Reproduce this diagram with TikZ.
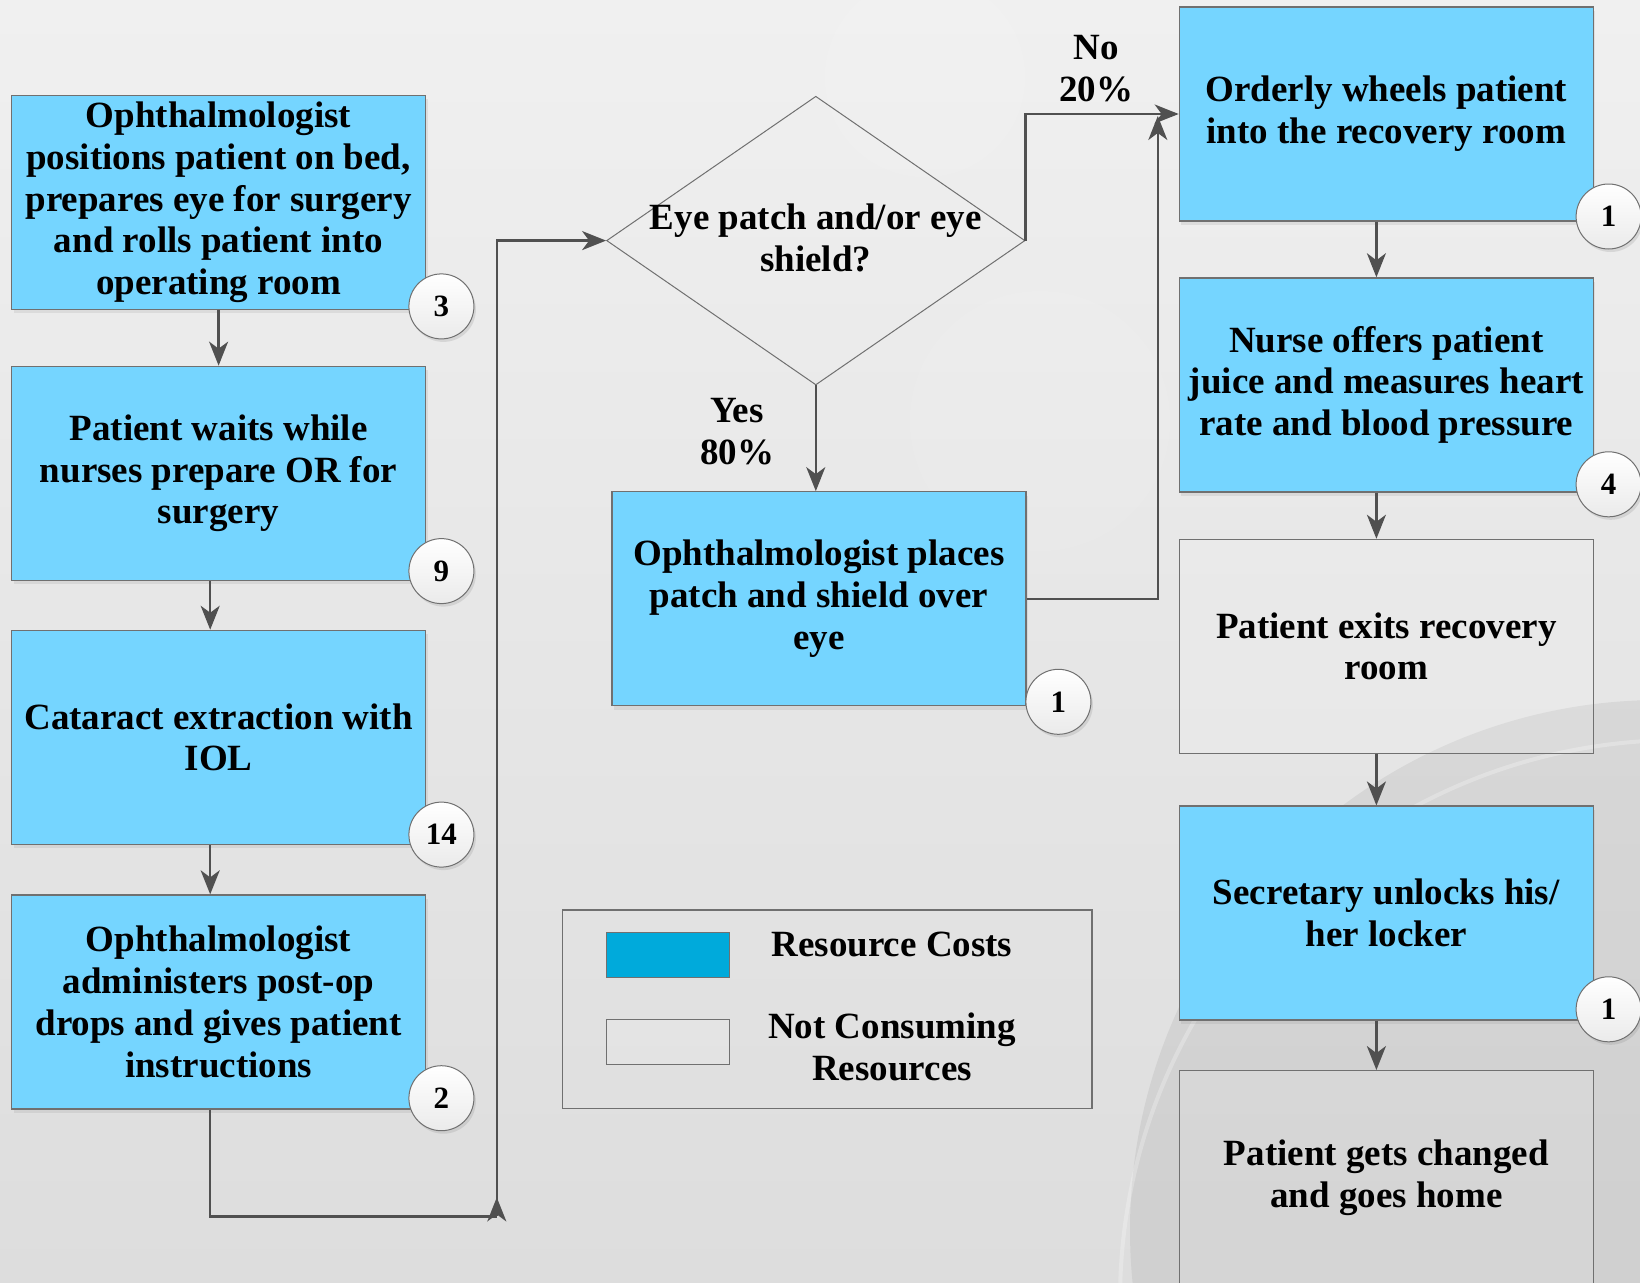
\documentclass[tikz,border=0pt]{standalone}
\usepackage{fontspec}
\setmainfont{Liberation Serif}
\usetikzlibrary{arrows.meta,shapes.geometric,shadows,calc}
\definecolor{boxblue}{RGB}{117,213,255}
\definecolor{swblue}{RGB}{0,170,219}
\definecolor{edgegray}{RGB}{112,112,112}
\definecolor{conngray}{RGB}{80,80,80}
\definecolor{bgtop}{RGB}{240,240,240}
\definecolor{bgbot}{RGB}{221,221,221}
\begin{document}
\begin{tikzpicture}[x=1pt,y=-1pt,
  txt/.style={font=\bfseries\fontsize{37}{41.8}\selectfont, align=center, text=black},
  proc/.style={txt, draw=edgegray, line width=1.3pt, fill=boxblue, minimum width=414pt, minimum height=214pt, inner sep=0pt,
     drop shadow={opacity=0.15, shadow xshift=2pt, shadow yshift=-4pt}},
  idle/.style={txt, draw=edgegray, line width=1.3pt, fill=white, fill opacity=0.12, text opacity=1, minimum width=414pt, minimum height=214pt, inner sep=0pt},
  cnt/.style={circle, draw=edgegray, line width=1pt, minimum size=65pt, inner sep=0pt, top color=white, bottom color=black!8,
     font=\bfseries\fontsize{31}{31}\selectfont, drop shadow={opacity=0.2, shadow xshift=2pt, shadow yshift=-3pt}},
  conline/.style={draw=conngray, line width=2.4pt},
  arr/.style={conline, -{Stealth[length=24pt, width=19pt, inset=7pt]}},
  lbl/.style={txt},
]
% background
\useasboundingbox (0,0) rectangle (1640,1282);
\begin{scope}
\clip (0,0) rectangle (1640,1282);
\shade[top color=bgtop, bottom color=bgbot] (0,0) rectangle (1640,1282);
\fill[white, opacity=0.10] (925,77) circle (100);
\fill[white, opacity=0.08] (1040,421) circle (130);
\fill[white, opacity=0.06] (860,40) circle (70);
\fill[black, opacity=0.06] (1660,1230) circle (530);
\draw[white, opacity=0.25, line width=4pt] (1680,1300) circle (560);
\end{scope}

% left column
\node[proc] (l1) at (218.6,202.4) {Ophthalmologist\\positions patient on bed,\\prepares eye for surgery\\and rolls patient into\\operating room};
\node[proc] (l2) at (218.6,473.3) {Patient waits while\\nurses prepare OR for\\surgery};
\node[proc] (l3) at (218.6,737.4) {Cataract extraction with\\IOL};
\node[proc] (l4) at (218.6,1002) {Ophthalmologist\\administers post-op\\drops and gives patient\\instructions};

% decision
\node[diamond, draw=edgegray, line width=1pt, minimum width=418.4pt, minimum height=288.7pt, inner sep=0pt] (dia) at (815.8,240.6) {};
\node[txt] (diatext) at (815.8,238) {Eye patch and/or eye\\shield?};

% middle box
\node[proc] (mid) at (818.9,598.8) {Ophthalmologist places\\patch and shield over\\eye};

% right column
\node[proc] (r1) at (1386.3,114) {Orderly wheels patient\\into the recovery room};
\node[proc] (r2) at (1386.3,384.9) {Nurse offers patient\\juice and measures heart\\rate and blood pressure};
\node[idle] (r3) at (1386.3,646.4) {Patient exits recovery\\room};
\node[proc] (r4) at (1386.3,913.1) {Secretary unlocks his/\\her locker};
\node[idle] (r5) at (1386.3,1177.7) {Patient gets changed\\and goes home};

% count circles
\node[cnt] (n1) at (441.4,306.4) {3};
\node[cnt] (n2) at (441.4,571.1) {9};
\node[cnt] (n3) at (441.4,834.6) {14};
\node[cnt] (n4) at (441.4,1098.2) {2};
\node[cnt] (nm) at (1058.4,701.8) {1};
\node[cnt] (nr1) at (1608.6,216.5) {1};
\node[cnt] (nr2) at (1608.6,484.3) {4};
\node[cnt] (nr4) at (1608.6,1009.3) {1};

% labels
\node[lbl] (nolbl) at (1096,69) {No\\20\%};
\node[lbl] (yeslbl) at (737,432) {Yes\\80\%};

% legend
\node[draw=edgegray, line width=1.2pt, minimum width=529.3pt, minimum height=198.7pt, inner sep=0pt] (leg) at (827.35,1009.35) {};
\node[draw=edgegray, line width=1pt, fill=swblue, minimum width=122.4pt, minimum height=45pt, inner sep=0pt] (sw1) at (667.8,954.5) {};
\node[draw=edgegray, line width=1pt, fill=white, fill opacity=0.1, minimum width=122.4pt, minimum height=45pt, inner sep=0pt] (sw2) at (667.8,1042.2) {};
\node[txt] (legt1) at (892,944.5) {Resource Costs};
\node[txt] (legt2) at (892,1047) {Not Consuming\\Resources};

% connectors
\coordinate (c1) at (496.8,1216.4);
\coordinate (c2) at (1157.8,116);
\draw[arr] (l1.south) -- (l2.north);
\draw[arr] ([xshift=-8.4pt]l2.south) -- ([xshift=-8.4pt]l3.north);
\draw[arr] ([xshift=-8.4pt]l3.south) -- ([xshift=-8.4pt]l4.north);
\draw[conline] ([xshift=-8.4pt]l4.south) |- (c1);
\draw[arr] (c1) -- ++(0,-19);
\draw[arr] (c1) |- (dia.west);
\draw[arr] (dia.south) -- (dia.south |- mid.north);
\draw[arr] (dia.east) |- (r1.west);
\draw[arr] (mid.east) -| (c2);
\draw[arr] ([xshift=-9.9pt]r1.south) -- ([xshift=-9.9pt]r2.north);
\draw[arr] ([xshift=-9.9pt]r2.south) -- ([xshift=-9.9pt]r3.north);
\draw[arr] ([xshift=-9.9pt]r3.south) -- ([xshift=-9.9pt]r4.north);
\draw[arr] ([xshift=-9.9pt]r4.south) -- ([xshift=-9.9pt]r5.north);
\end{tikzpicture}
\end{document}
